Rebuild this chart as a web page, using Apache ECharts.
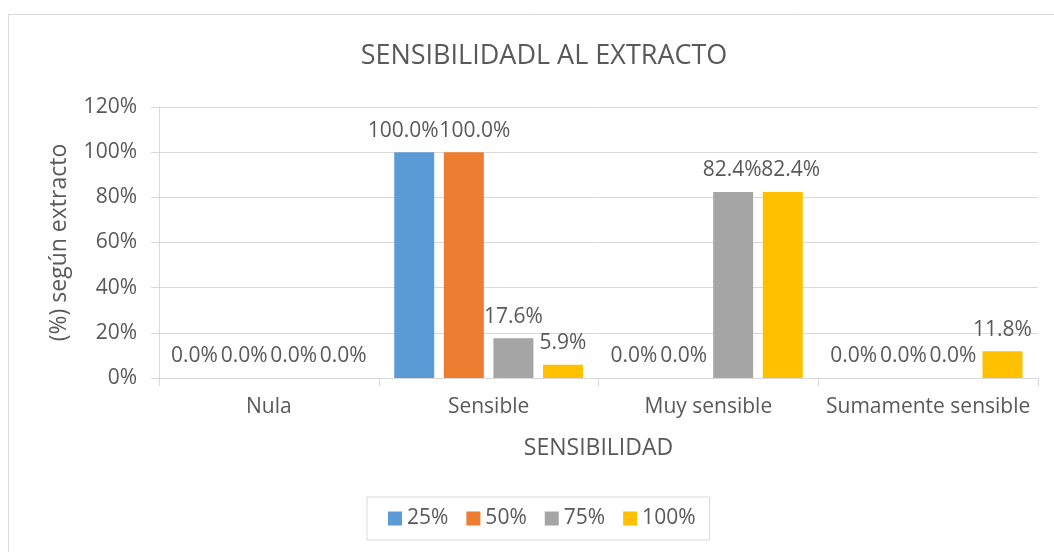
<!DOCTYPE html>
<html><head><meta charset="utf-8">
<script src="https://cdn.jsdelivr.net/npm/echarts@6/dist/echarts.min.js"></script>
<style>html,body{margin:0;padding:0;background:#fff}#c{width:1054px;height:552px}</style>
</head><body><div id="c"></div>
<script>
const categories = ['Nula', 'Sensible', 'Muy sensible', 'Sumamente sensible'];
const seriesNames = ['25%', '50%', '75%', '100%'];
const s25 = [0, 100, 0, 0];
const s50 = [0, 100, 0, 0];
const s75 = [0, 17.6, 82.4, 0];
const s100 = [0, 5.9, 82.4, 11.8];
const colors = ['#5B9BD5', '#ED7D31', '#A5A5A5', '#FFC000'];
const FONT = 'Open Sans';
const TXT = '#595959';
const values = [s25, s50, s75, s100];
// horizontal nudges of colliding data labels (seriesIndex-dataIndex -> px), like the original
const labelNudge = {'0-1': -11, '1-1': 11, '2-2': -1, '3-2': 8};

const chart = echarts.init(document.getElementById('c'), null, {renderer: 'canvas'});
chart.setOption({
  animation: false,
  textStyle: {fontFamily: FONT, color: TXT},
  title: {
    text: 'SENSIBILIDADL AL EXTRACTO',
    left: 539, textAlign: 'center', top: 38,
    textStyle: {fontFamily: FONT, fontSize: 27, fontWeight: 'normal', color: TXT}
  },
  graphic: [{
    type: 'rect', shape: {x: 8.5, y: 14.5, width: 1100, height: 600},
    style: {fill: 'none', stroke: '#d9d9d9', lineWidth: 1}, silent: true, z: -10
  }],
  legend: {
    data: seriesNames,
    left: 367, top: 497,
    padding: [11, 14, 11, 21],
    borderColor: '#d9d9d9', borderWidth: 1,
    itemWidth: 14, itemHeight: 14, itemGap: 18,
    icon: 'rect',
    textStyle: {fontFamily: FONT, fontSize: 21, color: TXT}
  },
  grid: {left: 159, right: 16, top: 107, bottom: 174, containLabel: false},
  xAxis: {
    type: 'category', data: categories,
    name: 'SENSIBILIDAD', nameLocation: 'middle', nameGap: 59,
    nameTextStyle: {fontFamily: FONT, fontSize: 23, color: TXT},
    axisLine: {lineStyle: {color: '#d9d9d9'}},
    axisTick: {show: true, length: 8, lineStyle: {color: '#d9d9d9'}},
    axisLabel: {fontFamily: FONT, fontSize: 21, color: TXT, margin: 19, interval: 0}
  },
  yAxis: {
    type: 'value', min: 0, max: 120, interval: 20,
    name: '(%) según extracto', nameLocation: 'middle', nameGap: 88, nameRotate: 90,
    nameTextStyle: {fontFamily: FONT, fontSize: 23, color: TXT},
    axisLine: {show: true, lineStyle: {color: '#d9d9d9'}},
    axisTick: {show: true, length: 8, lineStyle: {color: '#d9d9d9'}},
    splitLine: {lineStyle: {color: '#d9d9d9'}},
    axisLabel: {fontFamily: FONT, fontSize: 21, color: TXT, margin: 22, formatter: '{value}%'}
  },
  series: seriesNames.map((n, i) => ({
    name: n, type: 'bar', data: values[i],
    barWidth: 40, barGap: '24%',
    itemStyle: {color: colors[i]},
    label: {
      show: true, position: 'top', distance: 11,
      fontFamily: FONT, fontSize: 21, color: TXT,
      formatter: p => p.value.toFixed(1) + '%'
    },
    labelLayout: p => ({dx: labelNudge[p.seriesIndex + '-' + p.dataIndex] || 0})
  }))
});
</script></body></html>
